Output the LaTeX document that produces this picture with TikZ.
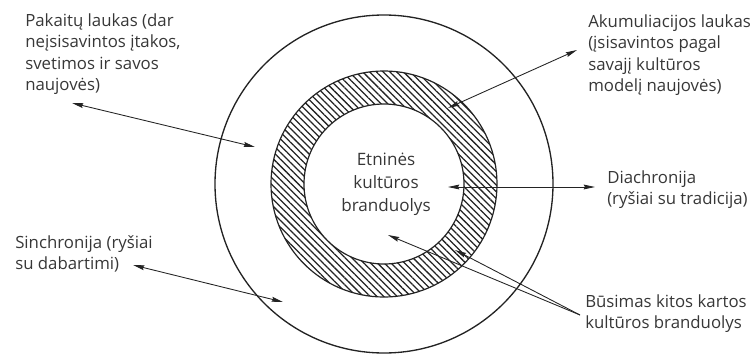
\documentclass[tikz,border=0pt]{standalone}
\usepackage{fontspec}
\setmainfont{Open Sans}
\usetikzlibrary{arrows.meta,patterns.meta}

\definecolor{inkgray}{RGB}{35,35,35}
\definecolor{txtgray}{RGB}{55,55,55}

\tikzset{
  lbl/.style={font=\fontsize{12.6}{16.2}\selectfont, align=left, inner sep=0pt, anchor=north west, text=txtgray},
  ptr/.style={draw=inkgray, line width=0.65pt, -{Stealth[length=8.5pt,width=3.6pt,inset=1pt]}},
  dptr/.style={draw=inkgray, line width=0.65pt, {Stealth[length=8.5pt,width=3.6pt,inset=1pt]}-{Stealth[length=8.5pt,width=3.6pt,inset=1pt]}},
  ring/.style={draw=inkgray, line width=0.9pt}
}

\begin{document}
\begin{tikzpicture}[x=0.75pt,y=0.75pt,yscale=-1,xscale=1]
\useasboundingbox (0,0) rectangle (754,354);
\coordinate (ctr) at (384,184);
%Shape: Hatched ring
\fill [even odd rule, pattern={Lines[angle=-45,distance=3.6pt,line width=0.95pt]}, pattern color=inkgray] (ctr) circle [radius=113] (ctr) circle [radius=80];
%Shape: Circles
\draw [ring, line width=1pt] (ctr) circle [radius=169];
\draw [ring] (ctr) circle [radius=113];
\draw [ring] (ctr) circle [radius=80];
% Text Node
\node (core) at (386,153) [lbl, anchor=north, align=center, font=\fontsize{12.8}{17.3}\selectfont] {Etninės\\kultūros\\branduolys};
% Text Node
\node (pak) at (25,13) [lbl] {Pakaitų laukas (dar\\neįsisavintos įtakos,\\svetimos ir savos\\naujovės)};
% Text Node
\node (aku) at (588,14) [lbl] {Akumuliacijos laukas\\(įsisavintos pagal\\savajį kultūros\\modelį naujovės)};
% Text Node
\node (dia) at (607,170) [lbl] {Diachronija\\(ryšiai su tradicija)};
% Text Node
\node (sin) at (15,235) [lbl] {Sinchronija (ryšiai\\su dabartimi)};
% Text Node
\node (bus) at (585,294) [lbl] {Būsimas kitos kartos\\kultūros branduolys};
%Arrow ends
\coordinate (pakL) at (72,103);
\coordinate (pakR) at (255,147);
\coordinate (akuT) at (577,50);
\coordinate (akuB) at (448,108);
\coordinate (diaL) at (448,187);
\coordinate (diaR) at (595,187);
\coordinate (sinL) at (133,265);
\coordinate (sinR) at (283,302);
\coordinate (busO) at (580,315);
\coordinate (busA) at (388,235);
\coordinate (busB) at (455,250);
%Straight Lines
\draw [dptr] (pakL) -- (pakR);
\draw [dptr] (akuT) -- (akuB);
\draw [dptr] (diaR) -- (diaL);
\draw [dptr] (sinL) -- (sinR);
\draw [ptr] (busO) -- (busA);
\draw [ptr] (busO) -- (busB);
\end{tikzpicture}
\end{document}
